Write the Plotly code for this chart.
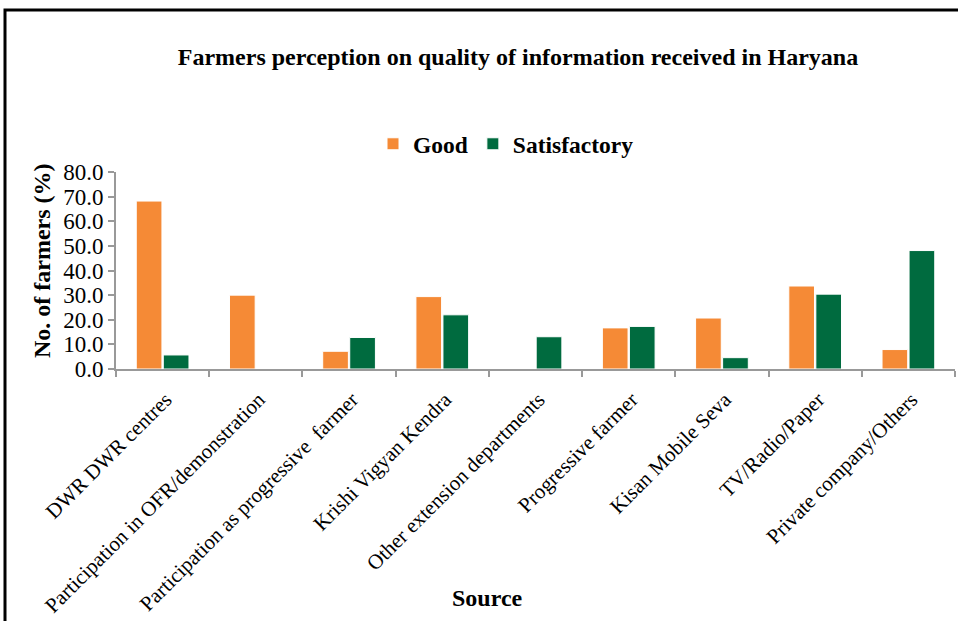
import plotly.graph_objects as go

categories = [
    "DWR DWR centres",
    "Participation in OFR/demonstration",
    "Participation as progressive  farmer",
    "Krishi Vigyan Kendra",
    "Other extension departments",
    "Progressive farmer",
    "Kisan Mobile Seva",
    "TV/Radio/Paper",
    "Private company/Others",
]
good = [68.2, 30.0, 7.2, 29.4, 0.0, 16.7, 20.7, 33.7, 7.9]
satisfactory = [5.7, 0.0, 12.8, 22.0, 13.1, 17.3, 4.6, 30.4, 48.1]
y_ticks = [0, 10, 20, 30, 40, 50, 60, 70, 80]

FONT = "Liberation Serif"
ORANGE = "#F58A36"
GREEN = "#006B3F"

W, H = 958, 621
ML, MR, MT, MB = 116, 3, 172, 252
pw = W - ML - MR
ph = H - MT - MB

def px_x(px):
    return (px - ML) / pw

def px_y(py):
    return (H - MB - py) / ph

fig = go.Figure()
fig.add_trace(go.Bar(name="<b>Good</b>", x=categories, y=good,
                     marker=dict(color=ORANGE, line=dict(color="white", width=1))))
fig.add_trace(go.Bar(name="<b>Satisfactory</b>", x=categories, y=satisfactory,
                     marker=dict(color=GREEN, line=dict(color="white", width=1))))

fig.update_layout(
    width=W, height=H,
    margin=dict(l=ML, r=MR, t=MT, b=MB, pad=0),
    paper_bgcolor="white", plot_bgcolor="white",
    barmode="group", bargap=0.42, bargroupgap=0.05,
    font=dict(family=FONT, color="black"),
    title=dict(text="<b>Farmers perception on quality of information received in Haryana</b>",
               x=518 / W, xanchor="center", y=1 - 57 / H, yanchor="middle",
               font=dict(size=24, family=FONT, color="black")),
    legend=dict(orientation="h", x=px_x(506), xanchor="center", y=px_y(144), yanchor="middle",
                font=dict(size=23.5, family=FONT, color="black"), itemwidth=30,
                bgcolor="rgba(0,0,0,0)"),
    showlegend=True,
)

fig.update_xaxes(
    type="category", tickangle=-45, tickfont=dict(size=21, family=FONT, color="black"),
    showline=True, linecolor="#999999", linewidth=2,
    ticks="outside", tickson="boundaries", ticklen=6, tickcolor="#999999", tickwidth=2,
    ticklabelstandoff=8, ticklabelshift=3,
    showgrid=False, zeroline=False,
)
fig.update_yaxes(
    range=[0, 80], tickvals=y_ticks, tickformat=".1f",
    tickfont=dict(size=23, family=FONT, color="black"),
    showline=True, linecolor="#999999", linewidth=2,
    ticks="outside", ticklen=6, tickcolor="#999999", tickwidth=2,
    showgrid=False, zeroline=False,
)

fig.add_annotation(text="<b>No. of farmers (%)</b>", textangle=-90,
                   xref="paper", yref="paper", x=px_x(42), y=px_y(261),
                   xanchor="center", yanchor="middle", showarrow=False,
                   font=dict(size=24, family=FONT, color="black"))
fig.add_annotation(text="<b>Source</b>",
                   xref="paper", yref="paper", x=px_x(487), y=px_y(598),
                   xanchor="center", yanchor="middle", showarrow=False,
                   font=dict(size=24, family=FONT, color="black"))

fig.add_shape(type="rect", xref="paper", yref="paper",
              x0=px_x(5), x1=px_x(965), y0=px_y(630), y1=px_y(10),
              line=dict(color="black", width=3), fillcolor="rgba(0,0,0,0)", layer="above")

fig.write_html("out.html")
